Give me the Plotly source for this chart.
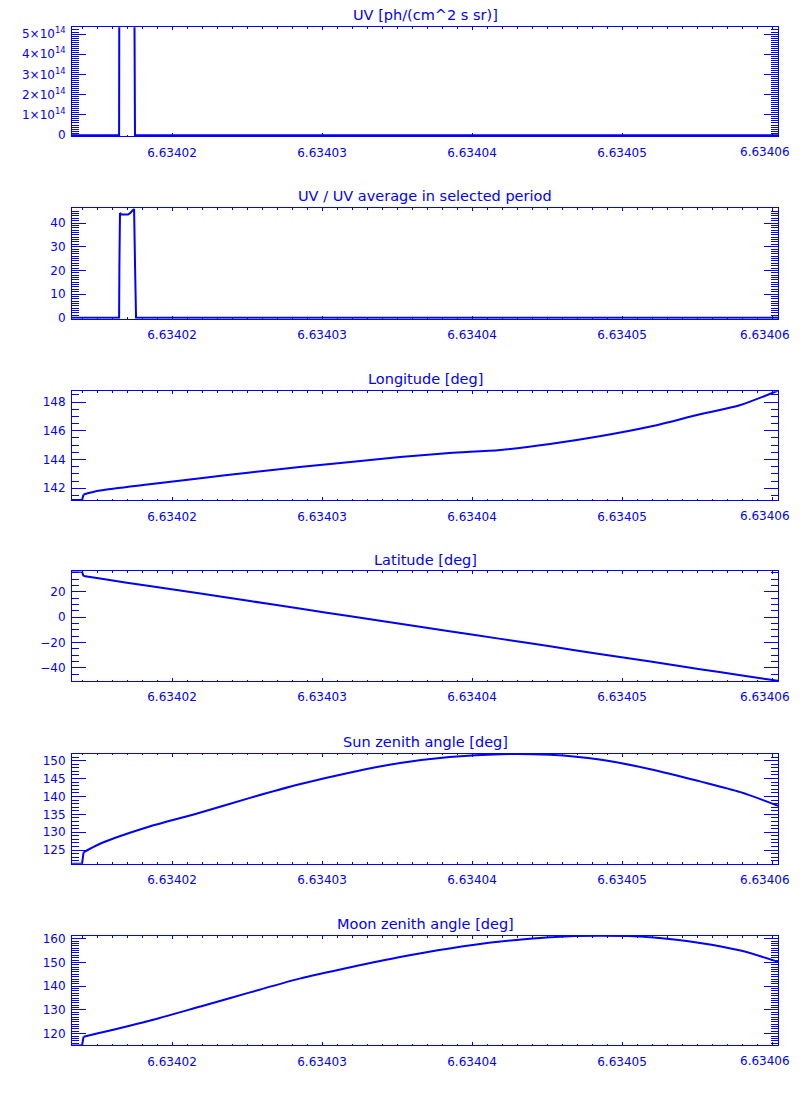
import plotly.graph_objects as go

BLUE = "#0000FF"
FONT = "DejaVu Sans"

# ---- data (x in the plot's own units) ----
titles = ["UV [ph/(cm^2 s sr)]", "UV / UV average in selected period", "Longitude [deg]",
          "Latitude [deg]", "Sun zenith angle [deg]", "Moon zenith angle [deg]"]

uv_x = [6.6340133, 6.63401647, 6.63401649, 6.63401747, 6.63401753, 6.6340604]
uv_y = [0.0, 0.0, 9.6e14, 9.8e14, 0.0, 0.0]

ratio_x = [6.6340133, 6.63401647, 6.63401649, 6.63401653, 6.63401660, 6.63401707,
           6.63401720, 6.63401733, 6.63401747, 6.63401753, 6.63401760, 6.6340604]
ratio_y = [0.0, 0.0, 22.0, 44.3, 43.6, 43.6, 44.2, 45.0, 46.0, 23.0, 0.0, 0.0]

orbit_x = [6.6340133, 6.6340140, 6.6340141, 6.6340152, 6.6340185, 6.6340219, 6.6340252,
           6.6340285, 6.6340319, 6.6340352, 6.6340385, 6.6340419, 6.6340452, 6.6340485,
           6.6340519, 6.6340552, 6.6340579, 6.6340604]
longitude = [141.18, 141.18, 141.57, 141.84, 142.28, 142.70, 143.10, 143.48, 143.83, 144.17,
             144.45, 144.67, 145.08, 145.62, 146.30, 147.15, 147.80, 148.80]
latitude = [35.8, 35.8, 32.5, 30.5, 24.6, 18.7, 12.8, 6.8, 0.8, -5.1, -11.1, -17.1, -23.0,
            -29.0, -35.0, -41.0, -45.8, -50.2]
sun_zenith = [121.2, 121.2, 124.4, 126.8, 131.6, 135.5, 139.6, 143.4, 146.7, 149.3, 151.0,
              151.8, 151.6, 150.3, 147.6, 144.2, 141.2, 137.4]
moon_zenith = [115.1, 115.1, 118.75, 120.4, 125.5, 131.5, 137.4, 143.2, 148.0, 152.3, 155.9,
               158.8, 160.6, 161.2, 160.6, 158.2, 155.0, 150.3]

x_range = [6.63401333, 6.6340604]
x_ticks = [6.63402, 6.63403, 6.63404, 6.63405, 6.63406]
x_labels = [f"{v:.5f}" for v in x_ticks]

series = [(uv_x, uv_y), (ratio_x, ratio_y), (orbit_x, longitude), (orbit_x, latitude),
          (orbit_x, sun_zenith), (orbit_x, moon_zenith)]
y_ranges = [[-0.06e14, 5.34e14], [-0.5, 46.3], [141.15, 148.76], [-50.4, 36.1],
            [121.2, 151.9], [115.1, 161.1]]
y_dticks = [1e14, 10, 2, 20, 5, 10]
y_minor = [1e13, 1, 0.5, 5, 1, 1]

# page geometry: the browser adds an 8px body margin around the figure
PAGE_W, PAGE_H, M = 800, 1100, 8
W, H = PAGE_W - 2 * M, PAGE_H - 2 * M
panels_px = [(23.3, 133.5), (206.0, 317.7), (390.7, 501.0), (572.7, 683.3),
             (756.7, 867.7), (940.7, 1051.0)]
x_dom = [(72 - M) / W, (778 - M) / W]


def yfrac(page_y):
    return 1 - (page_y - M) / H


fig = go.Figure()
layout = dict(width=W, height=H, margin=dict(l=0, r=0, t=0, b=0),
              paper_bgcolor="white", plot_bgcolor="white", showlegend=False,
              font=dict(family=FONT, color=BLUE, size=12))
annotations = []
for i, ((xs, ys), (top, bot)) in enumerate(zip(series, panels_px)):
    n = "" if i == 0 else str(i + 1)
    if i < 2:
        fig.add_trace(go.Scatter(x=xs, y=ys, mode="lines", line=dict(color=BLUE, width=2),
                                 xaxis="x" + n, yaxis="y" + n, hoverinfo="skip"))
    else:
        fig.add_trace(go.Scatter(x=xs[:3], y=ys[:3], mode="lines",
                                 line=dict(color=BLUE, width=2),
                                 xaxis="x" + n, yaxis="y" + n, hoverinfo="skip"))
        fig.add_trace(go.Scatter(x=xs[2:], y=ys[2:], mode="lines",
                                 line=dict(color=BLUE, width=2, shape="spline",
                                           smoothing=0.8),
                                 xaxis="x" + n, yaxis="y" + n, hoverinfo="skip"))
    ydom = [yfrac(bot), yfrac(top)]
    layout["xaxis" + n] = dict(
        domain=x_dom, anchor="y" + n, range=x_range, tickvals=x_ticks,
        ticktext=x_labels[:-1] + [""],
        ticks="inside", ticklen=3, tickwidth=1, tickcolor=BLUE,
        showline=True, linecolor=BLUE, linewidth=1, mirror="ticks",
        showgrid=False, zeroline=False, ticklabelstandoff=5,
        tickfont=dict(family=FONT, color=BLUE, size=12),
        minor=dict(dtick=1e-6, tick0=6.63402, ticks="inside", ticklen=1.5,
                   tickcolor=BLUE, tickwidth=1, showgrid=False))
    ykw = dict(
        domain=ydom, anchor="x" + n, range=y_ranges[i], dtick=y_dticks[i], tick0=0,
        ticks="inside", ticklen=14, tickwidth=1, tickcolor=BLUE,
        showline=True, linecolor=BLUE, linewidth=1, mirror="ticks",
        showgrid=False, zeroline=False, ticklabelstandoff=3,
        tickfont=dict(family=FONT, color=BLUE, size=12),
        minor=dict(dtick=y_minor[i], tick0=0, ticks="inside", ticklen=7,
                   tickcolor=BLUE, tickwidth=1, showgrid=False))
    if i == 0:
        ykw.update(exponentformat="power", showexponent="all")
    layout["yaxis" + n] = ykw
    annotations.append(dict(text=titles[i], xref="paper", yref="paper",
                            x=(x_dom[0] + x_dom[1]) / 2, y=yfrac(top - 12),
                            xanchor="center", yanchor="middle", showarrow=False,
                            font=dict(family=FONT, color=BLUE, size=14.5)))
    # last x tick label, kept inside the page so it does not widen it
    annotations.append(dict(text=x_labels[-1], xref="paper", yref="paper",
                            x=1, y=yfrac(bot + 16), xanchor="right", yanchor="middle",
                            showarrow=False, font=dict(family=FONT, color=BLUE, size=12)))
layout["annotations"] = annotations
fig.update_layout(**layout)
fig.write_html("out.html")
